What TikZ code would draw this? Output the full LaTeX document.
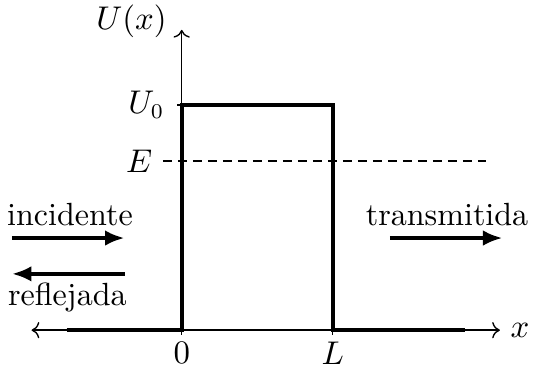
\documentclass[tikz,border=0pt]{standalone}
\usepackage{tikz}
\usetikzlibrary{arrows.meta}

\tikzset{
  potline/.style={line width=1.4pt},
  wavearrow/.style={line width=1.4pt,-{Latex[length=6.5pt,width=5.2pt]}},
  axisline/.style={line width=0.45pt,->},
  every node/.style={font=\fontsize{10.7}{12.5}\selectfont}
}

\begin{document}
\begin{tikzpicture}
                \useasboundingbox (-2.13,-0.48) rectangle (4.27,3.87);

                \coordinate (xmin) at (-1.76,0);
                \coordinate (xmax) at (3.73,0);
                \coordinate (orig) at (0,0);
                \coordinate (ytop) at (0,3.52);
                \coordinate (barL) at (1.77,0);
                \coordinate (topA) at (0,2.64);
                \coordinate (topB) at (1.77,2.64);
                \coordinate (potA) at (-1.35,0);
                \coordinate (potB) at (3.32,0);
                \coordinate (eA) at (-0.22,1.98);
                \coordinate (eB) at (3.57,1.98);

                \draw[line width=0.45pt,<->] (xmin) -- (xmax);
                \draw[axisline] (orig) -- (ytop);
                \draw[line width=0.45pt] (orig) -- ++(0,-0.06);
                \draw[line width=0.45pt] (barL) -- ++(0,-0.06);
                \draw[line width=0.45pt] (topA) -- ++(-0.06,0);

                \draw[potline] (potA) -- (orig) -- (topA) -- (topB) -- (barL) -- (potB);
                \draw[line width=0.6pt,dash pattern=on 3pt off 2pt] (eA) -- (eB);

                \node[anchor=east,inner sep=2pt] (ulab) at (-0.1,3.62) {$U(x)$};
                \node[anchor=east] (u0lab) at (-0.08,2.64) {$U_0$};
                \node[anchor=east] (elab) at (eA) {$E$};
                \node[anchor=north,inner sep=2pt] (zlab) at (0,-0.06) {$0$};
                \node[anchor=north,inner sep=2pt] (llab) at (1.77,-0.06) {$L$};
                \node[anchor=west] (xlab) at (xmax) {$x$};

                \node (inc) at (-1.31,1.35) {incidente};
                \node (ref) at (-1.34,0.38) {reflejada};
                \node (tra) at (3.11,1.35) {transmitida};

                \coordinate (incA) at (-1.99,1.08);
                \coordinate (incB) at (-0.67,1.08);
                \coordinate (refA) at (-0.67,0.66);
                \coordinate (refB) at (-1.99,0.66);
                \coordinate (traA) at (2.44,1.08);
                \coordinate (traB) at (3.76,1.08);

                \draw[wavearrow] (incA) -- (incB);
                \draw[wavearrow] (refA) -- (refB);
                \draw[wavearrow] (traA) -- (traB);
            \end{tikzpicture}
\end{document}
